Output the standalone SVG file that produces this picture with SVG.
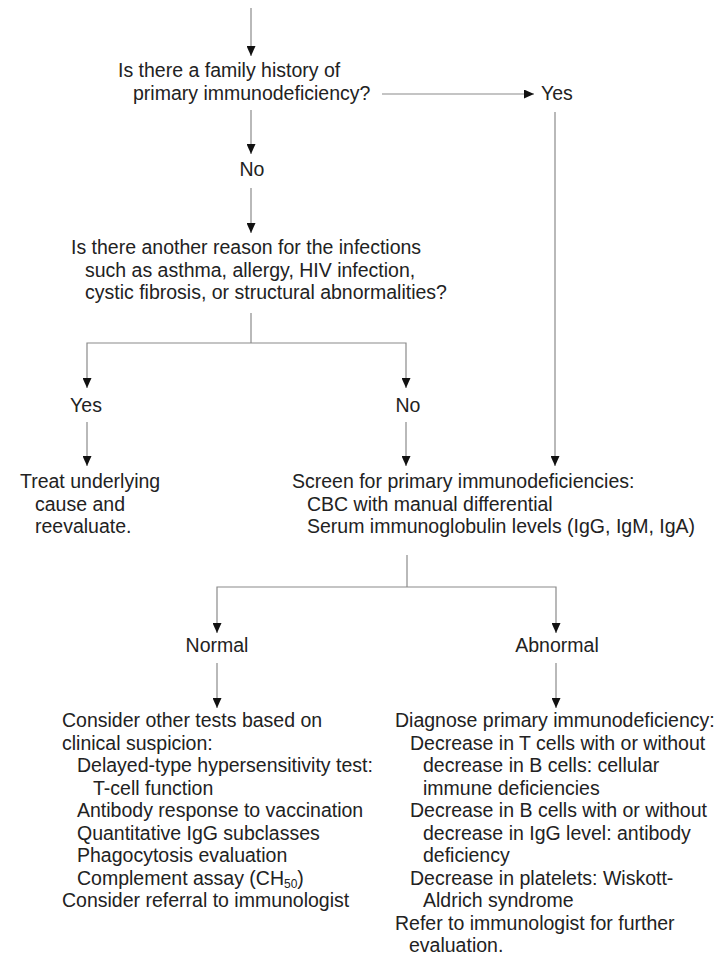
<svg xmlns="http://www.w3.org/2000/svg" width="720" height="960" viewBox="0 0 720 960">
<style>
text{font-family:"Liberation Sans",Arial,sans-serif;font-size:19.5px;fill:#222}
.c{text-anchor:middle}
.ln{stroke:#8a8a8a;stroke-width:1.2;fill:none}
.ar{marker-end:url(#ah)}
</style>
<defs>
<marker id="ah" markerUnits="userSpaceOnUse" markerWidth="10" markerHeight="9" refX="10" refY="4.5" orient="auto">
<path d="M0,0 L10,4.5 L0,9 z" fill="#111"/>
</marker>
</defs>
<rect width="720" height="960" fill="#fff"/>
<g id="connectors">
<line class="ln ar" x1="251" y1="8" x2="251" y2="56"/>
<line class="ln ar" x1="251" y1="110" x2="251" y2="154"/>
<line class="ln ar" x1="251" y1="188" x2="251" y2="233"/>
<line class="ln ar" x1="382" y1="94" x2="534" y2="94"/>
<line class="ln ar" x1="555" y1="112" x2="555" y2="466"/>
<line class="ln" x1="251" y1="313" x2="251" y2="343"/>
<path class="ln ar" d="M251,343 H87 V388"/>
<path class="ln ar" d="M251,343 H406 V388"/>
<line class="ln ar" x1="87" y1="422" x2="87" y2="466"/>
<line class="ln ar" x1="406" y1="422" x2="406" y2="466"/>
<line class="ln" x1="407" y1="555" x2="407" y2="587"/>
<path class="ln ar" d="M407,587 H217 V633"/>
<path class="ln ar" d="M407,587 H556 V633"/>
<line class="ln ar" x1="217" y1="663" x2="217" y2="708"/>
<line class="ln ar" x1="556" y1="663" x2="556" y2="708"/>
</g>
<g id="q1">
<text x="118" y="77">Is there a family history of</text>
<text x="133" y="99.5">primary immunodeficiency?</text>
</g>
<g id="q1-yes"><text x="541" y="100">Yes</text></g>
<g id="q1-no"><text class="c" x="252" y="176">No</text></g>
<g id="q2">
<text x="71" y="254">Is there another reason for the infections</text>
<text x="85" y="276.5">such as asthma, allergy, HIV infection,</text>
<text x="85" y="299">cystic fibrosis, or structural abnormalities?</text>
</g>
<g id="q2-yes"><text class="c" x="86" y="412">Yes</text></g>
<g id="q2-no"><text class="c" x="408" y="412">No</text></g>
<g id="treat">
<text x="20" y="488">Treat underlying</text>
<text x="35" y="510.5">cause and</text>
<text x="35" y="533">reevaluate.</text>
</g>
<g id="screen">
<text x="292" y="488">Screen for primary immunodeficiencies:</text>
<text x="307" y="510.5">CBC with manual differential</text>
<text x="307" y="533">Serum immunoglobulin levels (IgG, IgM, IgA)</text>
</g>
<g id="normal"><text class="c" x="217" y="652">Normal</text></g>
<g id="abnormal"><text class="c" x="557" y="652">Abnormal</text></g>
<g id="other-tests">
<text x="62" y="727">Consider other tests based on</text>
<text x="62" y="749.5">clinical suspicion:</text>
<text x="77" y="772">Delayed-type hypersensitivity test:</text>
<text x="93" y="794.5">T-cell function</text>
<text x="77" y="817">Antibody response to vaccination</text>
<text x="77" y="839.5">Quantitative IgG subclasses</text>
<text x="77" y="862">Phagocytosis evaluation</text>
<text x="77" y="884.5">Complement assay (CH<tspan font-size="12" dy="3">50</tspan><tspan dy="-3">)</tspan></text>
<text x="62" y="907">Consider referral to immunologist</text>
</g>
<g id="diagnose">
<text x="395" y="727">Diagnose primary immunodeficiency:</text>
<text x="410" y="749.5">Decrease in T cells with or without</text>
<text x="423" y="772">decrease in B cells: cellular</text>
<text x="423" y="794.5">immune deficiencies</text>
<text x="410" y="817">Decrease in B cells with or without</text>
<text x="423" y="839.5">decrease in IgG level: antibody</text>
<text x="423" y="862">deficiency</text>
<text x="410" y="884.5">Decrease in platelets: Wiskott-</text>
<text x="423" y="907">Aldrich syndrome</text>
<text x="395" y="929.5">Refer to immunologist for further</text>
<text x="409" y="952">evaluation.</text>
</g>
</svg>
